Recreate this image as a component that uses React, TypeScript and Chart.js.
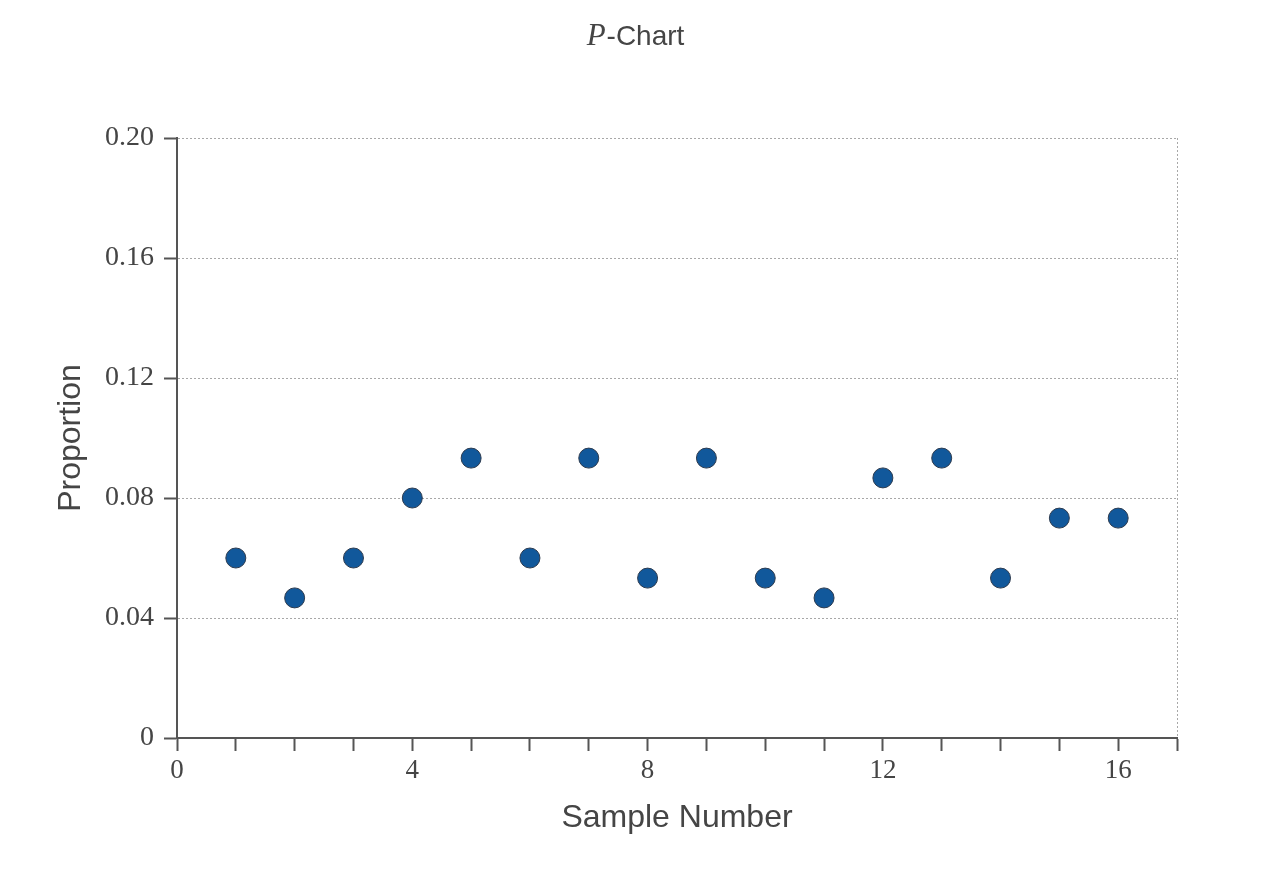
import React, { useEffect, useRef } from "react";
import { Chart, registerables } from "chart.js";

Chart.register(...registerables);

const sampleNumbers = [1, 2, 3, 4, 5, 6, 7, 8, 9, 10, 11, 12, 13, 14, 15, 16];
const proportions = [
  0.06, 0.0467, 0.06, 0.08, 0.0933, 0.06, 0.0933, 0.0533, 0.0933, 0.0533,
  0.0467, 0.0867, 0.0933, 0.0533, 0.0733, 0.0733,
];
const xTickLabelsEvery = 4;
const titleItalic = "P";
const titleRest = "-Chart";
const xTitle = "Sample Number";
const yTitle = "Proportion";

const TEXT = "#454545";
const AXIS = "#555555";
const GRID = "#a8a8a8";
const SERIF = "'Liberation Serif', 'Times New Roman', serif";
const SANS = "'Liberation Sans', Arial, Helvetica, sans-serif";

const titlePlugin = {
  id: "mixedTitle",
  afterDraw(chart: any) {
    const ctx = chart.ctx;
    ctx.save();
    ctx.fillStyle = TEXT;
    ctx.textBaseline = "alphabetic";
    ctx.textAlign = "left";
    const f1 = `italic 31px ${SERIF}`;
    const f2 = `28px ${SANS}`;
    ctx.font = f1;
    const w1 = ctx.measureText(titleItalic).width;
    ctx.font = f2;
    const w2 = ctx.measureText(titleRest).width;
    const cx = 635;
    const x0 = cx - (w1 + w2) / 2;
    const baseline = 45;
    ctx.font = f1;
    ctx.fillText(titleItalic, x0, baseline);
    ctx.font = f2;
    ctx.fillText(titleRest, x0 + w1 + 1, baseline);
    ctx.restore();
  },
};

export default function App() {
  const ref = useRef<HTMLCanvasElement | null>(null);

  useEffect(() => {
    if (!ref.current) return;
    const chart = new Chart(ref.current, {
      type: "scatter",
      data: {
        datasets: [
          {
            data: sampleNumbers.map((x, i) => ({ x, y: proportions[i] })),
            backgroundColor: "#11589b",
            borderColor: "#2d3b4f",
            borderWidth: 1,
            pointRadius: 10,
            pointHoverRadius: 10,
          },
        ],
      },
      options: {
        responsive: false,
        animation: false,
        layout: { padding: { left: 45, right: 102, top: 138, bottom: 0 } },
        plugins: {
          legend: { display: false },
          tooltip: { enabled: false },
          title: { display: false },
        },
        scales: {
          x: {
            type: "linear",
            min: 0,
            max: 17,
            afterFit: (s: any) => {
              s.height = 141;
            },
            ticks: {
              stepSize: 1,
              autoSkip: false,
              maxRotation: 0,
              padding: 4,
              color: TEXT,
              font: { family: SERIF, size: 27 },
              callback: (v: any) => (Number(v) % xTickLabelsEvery === 0 ? String(v) : ""),
            },
            grid: {
              drawOnChartArea: true,
              color: (c: any) => (c.tick && c.tick.value === 17 ? GRID : "rgba(0,0,0,0)"),
              lineWidth: 1,
              tickLength: 13,
              tickColor: AXIS,
              tickWidth: 2,
            },
            border: { display: true, color: AXIS, width: 2, dash: [2, 2] },
            title: {
              display: true,
              text: xTitle,
              color: TEXT,
              font: { family: SANS, size: 32 },
              padding: { top: 0, bottom: 42 },
            },
          },
          y: {
            type: "linear",
            min: 0,
            max: 0.2,
            afterFit: (s: any) => {
              s.width = 132;
            },
            ticks: {
              stepSize: 0.04,
              padding: 10,
              color: TEXT,
              font: { family: SERIF, size: 28 },
              callback: (v: any) => (Number(v) === 0 ? "0" : Number(v).toFixed(2)),
            },
            grid: {
              color: (c: any) => (c.tick && c.tick.value === 0 ? "rgba(0,0,0,0)" : GRID),
              lineWidth: 1,
              tickLength: 13,
              tickColor: AXIS,
              tickWidth: 2,
            },
            border: { display: true, color: AXIS, width: 2, dash: [2, 2] },
            title: {
              display: true,
              text: yTitle,
              color: TEXT,
              font: { family: SANS, size: 32 },
              padding: { top: 7, bottom: 0 },
            },
          },
        },
      },
      plugins: [titlePlugin],
    });
    return () => chart.destroy();
  }, []);

  return (
    <div style={{ position: "absolute", left: 0, top: 0, width: 1279, height: 879, background: "#ffffff" }}>
      <canvas ref={ref} width={1279} height={879} style={{ display: "block" }} />
    </div>
  );
}
